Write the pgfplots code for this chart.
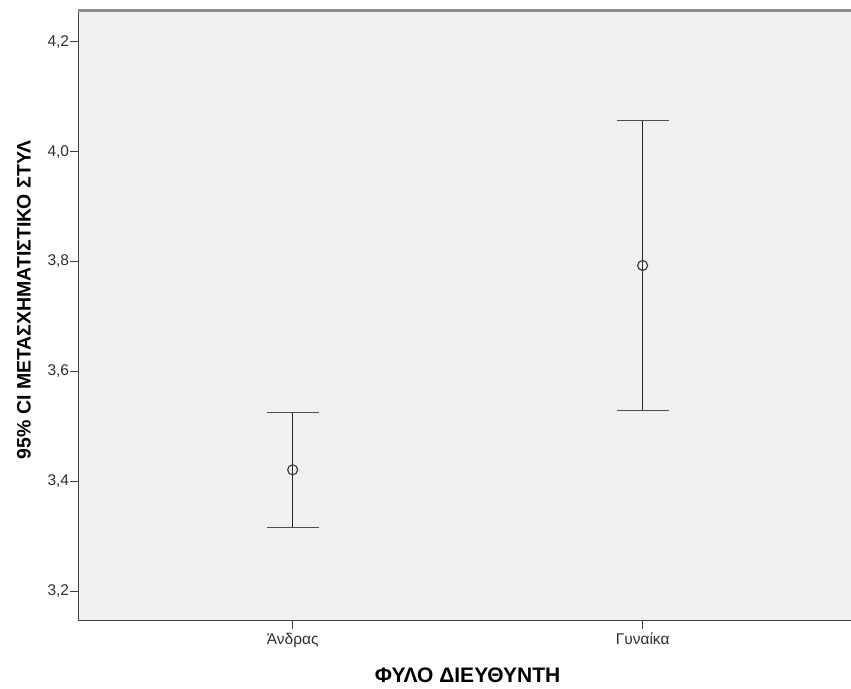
\documentclass[border=0pt]{standalone}
\usepackage{pgfplots}
\pgfplotsset{compat=1.18}
\usepackage{pgfplotstable}
\usepackage{fontspec}
\setmainfont{Liberation Sans}

\definecolor{plotbg}{HTML}{F0F0F0}
\definecolor{axisdark}{HTML}{404040}
\definecolor{framegray}{HTML}{8C8C8C}
\definecolor{labelgray}{HTML}{2E2E2E}

% group, mean, lower and upper 95% confidence limits
\pgfplotstableread{
x mean lo hi
0 3.4207 3.3164 3.5255
1 3.7927 3.5280 4.0564
}\cidata

\begin{document}
\begin{tikzpicture}
\begin{axis}[
  name=ax,
  scale only axis,
  width=778.7bp, height=610.2bp,
  xmin=-0.6126, xmax=1.6126,
  ymin=3.146, ymax=4.257,
  axis background/.style={fill=plotbg},
  axis line style={axisdark, line width=1bp},
  tick pos=left,
  tick align=outside,
  major tick length=8bp,
  tick style={axisdark, line width=1bp},
  xtick={0,1},
  xticklabels={Άνδρας, Γυναίκα},
  ytick={3.2,3.4,3.6,3.8,4.0,4.2},
  /pgf/number format/.cd, fixed, fixed zerofill, precision=1, use comma, assume math mode=true,
  /pgfplots/.cd,
  ticklabel style={font=\fontsize{15.5bp}{18bp}\selectfont, text=labelgray},
  yticklabel style={inner xsep=1bp},
  xticklabel style={inner ysep=4bp},
  xlabel={ΦΥΛΟ ΔΙΕΥΘΥΝΤΗ},
  ylabel={95\% CI ΜΕΤΑΣΧΗΜΑΤΙΣΤΙΚΟ ΣΤΥΛ},
  xlabel style={at={(rel axis cs:0.5,0)}, anchor=center, yshift=-54.3bp,
    font=\bfseries\fontsize{21bp}{24bp}\selectfont},
  ylabel style={at={(rel axis cs:0,0.5256)}, anchor=center, yshift=54.5bp,
    font=\bfseries\fontsize{19.5bp}{22bp}\selectfont},
  clip=false,
]
\addplot[
  only marks,
  mark=o,
  mark size=5bp,
  mark options={line width=1.2bp, draw=axisdark},
  error bars/.cd,
    y dir=both,
    y explicit,
    error bar style={line width=1.2bp, black!85},
    error mark options={rotate=90, mark size=26bp, line width=1.2bp, draw=black!70},
] table[
  x=x, y=mean,
  y error plus expr=\thisrow{hi}-\thisrow{mean},
  y error minus expr=\thisrow{mean}-\thisrow{lo},
] {\cidata};
% heavier grey upper frame line
\draw[framegray, line width=2.5bp] (rel axis cs:0,1) -- (rel axis cs:1,1);
\end{axis}
\pgfresetboundingbox
\path[use as bounding box]
  ([xshift=-78.3bp,yshift=-68.3bp]ax.south west)
  rectangle ([xshift=772.7bp,yshift=10.5bp]ax.north west);
\end{tikzpicture}
\end{document}
